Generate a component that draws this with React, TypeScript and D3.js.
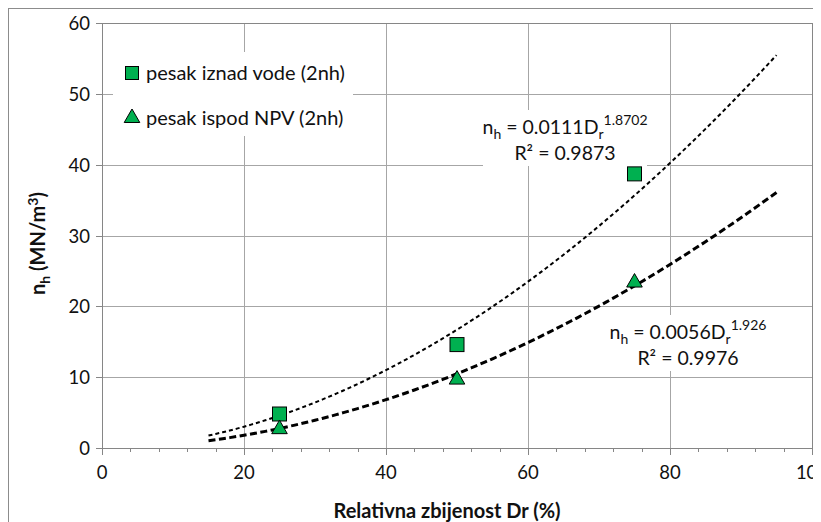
import React, { useEffect, useRef } from 'react';
import * as d3 from 'd3';

// measured points
const dr = [25, 50, 75];
const iznadVode = [4.8, 14.6, 38.7];
const ispodNPV = [2.8, 9.8, 23.5];

// power trendlines nh = a * Dr^b (from chart labels)
const trendA = [0.0111, 0.0056];
const trendB = [1.8702, 1.926];
const trendRange = [15, 95];

const xTicks = [0, 20, 40, 60, 80, 100];
const yTicks = [0, 10, 20, 30, 40, 50, 60];

const App: React.FC = () => {
  const svgRef = useRef<SVGSVGElement>(null);

  useEffect(() => {
    const svg = d3.select(svgRef.current);
    svg.selectAll('*').remove();

    const font = 'Lato, "Open Sans", sans-serif';
    const left = 94, top = 15, right = 804, bottom = 440;

    const x = d3.scaleLinear().domain([0, 100]).range([left, right]);
    const y = d3.scaleLinear().domain([0, 60]).range([bottom, top]);

    // outer chart border
    svg.append('rect')
      .attr('x', 0.5).attr('y', 0.5)
      .attr('width', 900).attr('height', 900)
      .attr('fill', 'white')
      .attr('stroke', '#8c8c8c');

    const g = svg.append('g');

    // horizontal gridlines
    yTicks.filter(t => t > 0).forEach(t => {
      g.append('line')
        .attr('x1', left).attr('x2', right)
        .attr('y1', Math.round(y(t)) + 0.5).attr('y2', Math.round(y(t)) + 0.5)
        .attr('stroke', '#a6a6a6');
    });
    // vertical gridlines
    xTicks.filter(t => t > 0).forEach(t => {
      g.append('line')
        .attr('x1', Math.round(x(t)) + 0.5).attr('x2', Math.round(x(t)) + 0.5)
        .attr('y1', top).attr('y2', bottom)
        .attr('stroke', '#a6a6a6');
    });

    // axes
    const axisColor = '#868686';
    g.append('line')
      .attr('x1', left + 0.5).attr('x2', left + 0.5)
      .attr('y1', top).attr('y2', bottom)
      .attr('stroke', axisColor);
    g.append('line')
      .attr('x1', left).attr('x2', right)
      .attr('y1', bottom + 0.5).attr('y2', bottom + 0.5)
      .attr('stroke', axisColor);

    yTicks.forEach(t => {
      const yy = Math.round(y(t)) + 0.5;
      g.append('line')
        .attr('x1', left - 6).attr('x2', left)
        .attr('y1', yy).attr('y2', yy)
        .attr('stroke', axisColor);
      g.append('text')
        .attr('x', left - 12).attr('y', yy + 6.5)
        .attr('text-anchor', 'end')
        .attr('font-family', font).attr('font-size', 18.5)
        .attr('fill', '#111')
        .text(t);
    });

    d3.range(0, 101, 4).forEach(t => {
      const xx = Math.round(x(t)) + 0.5;
      const major = t % 20 === 0;
      g.append('line')
        .attr('x1', xx).attr('x2', xx)
        .attr('y1', bottom).attr('y2', bottom + (major ? 7 : 4))
        .attr('stroke', axisColor);
    });
    xTicks.forEach(t => {
      g.append('text')
        .attr('x', x(t)).attr('y', bottom + 31)
        .attr('text-anchor', 'middle')
        .attr('font-family', font).attr('font-size', 18.5)
        .attr('fill', '#111')
        .text(t);
    });

    // axis titles
    g.append('text')
      .attr('x', (left + right) / 2 - 10).attr('y', bottom + 70)
      .attr('text-anchor', 'middle')
      .attr('font-family', font).attr('font-size', 20).attr('font-weight', 'bold')
      .attr('fill', '#111')
      .text('Relativna zbijenost Dr (%)');

    const yt = g.append('text')
      .attr('transform', `translate(37,${(top + bottom) / 2 + 8}) rotate(-90)`)
      .attr('text-anchor', 'middle')
      .attr('font-family', font).attr('font-size', 20).attr('font-weight', 'bold')
      .attr('fill', '#111');
    yt.append('tspan').text('n');
    yt.append('tspan').attr('font-size', 14).attr('dy', 5).text('h');
    yt.append('tspan').attr('dy', -5).text(' (MN/m');
    yt.append('tspan').attr('font-size', 14).attr('dy', -7).text('3');
    yt.append('tspan').attr('dy', 7).text(')');

    // plot area frame top/right
    g.append('line')
      .attr('x1', left).attr('x2', right + 0.5)
      .attr('y1', top + 0.5).attr('y2', top + 0.5)
      .attr('stroke', axisColor);
    g.append('line')
      .attr('x1', right + 0.5).attr('x2', right + 0.5)
      .attr('y1', top).attr('y2', bottom)
      .attr('stroke', axisColor);

    // trendlines
    const line = d3.line<number>().x(d => x(d[0])).y(d => y(d[1]));
    const xs = d3.range(trendRange[0], trendRange[1] + 0.01, 1);
    const styles = [
      { width: 2, dash: '4,3' },
      { width: 3, dash: '7,3.5' },
    ];
    trendA.forEach((a, i) => {
      const pts = xs.map(v => [v, a * Math.pow(v, trendB[i])]);
      g.append('path')
        .attr('d', (line as any)(pts))
        .attr('fill', 'none')
        .attr('stroke', '#000')
        .attr('stroke-width', styles[i].width)
        .attr('stroke-dasharray', styles[i].dash);
    });

    // equation labels
    const eq = (cx: number, cy: number, a: string, b: string, r2: string) => {
      g.append('rect')
        .attr('x', cx - 82).attr('y', cy - 24)
        .attr('width', 164).attr('height', 56)
        .attr('fill', 'white');
      const t = g.append('text')
        .attr('x', cx).attr('y', cy)
        .attr('text-anchor', 'middle')
        .attr('font-family', font).attr('font-size', 19.5)
        .attr('fill', '#111');
      t.append('tspan').text('n');
      t.append('tspan').attr('font-size', 14).attr('dy', 5).text('h');
      t.append('tspan').attr('dy', -5).text(` = ${a}D`);
      t.append('tspan').attr('font-size', 14).attr('dy', 5).text('r');
      t.append('tspan').attr('font-size', 14).attr('dy', -14).text(b);
      g.append('text')
        .attr('x', cx).attr('y', cy + 26)
        .attr('text-anchor', 'middle')
        .attr('font-family', font).attr('font-size', 19.5)
        .attr('fill', '#111')
        .text(`R² = ${r2}`);
    };
    eq(557, 126, '0.0111', '1.8702', '0.9873');
    eq(680, 331, '0.0056', '1.926', '0.9976');

    // markers
    const green = '#00b050';
    dr.forEach((d, i) => {
      g.append('rect')
        .attr('x', x(d) - 7).attr('y', y(iznadVode[i]) - 7)
        .attr('width', 14).attr('height', 14)
        .attr('fill', green).attr('stroke', '#000').attr('stroke-width', 1);
    });
    const tri = d3.symbol().type(d3.symbolTriangle).size(105);
    dr.forEach((d, i) => {
      g.append('path')
        .attr('d', tri() as string)
        .attr('transform', `translate(${x(d)},${y(ispodNPV[i]) + 1})`)
        .attr('fill', green).attr('stroke', '#000').attr('stroke-width', 1);
    });

    // legend
    const lg = g.append('g').attr('transform', 'translate(105,44)');
    lg.append('rect').attr('x', 0).attr('y', 0).attr('width', 240).attr('height', 84).attr('fill', 'white');
    lg.append('rect')
      .attr('x', 12.5).attr('y', 14.5).attr('width', 13).attr('height', 13)
      .attr('fill', green).attr('stroke', '#000');
    lg.append('text')
      .attr('x', 33).attr('y', 28)
      .attr('font-family', font).attr('font-size', 20).attr('fill', '#111')
      .text('pesak iznad vode (2nh)');
    lg.append('path')
      .attr('d', tri() as string)
      .attr('transform', 'translate(19,66)')
      .attr('fill', green).attr('stroke', '#000');
    lg.append('text')
      .attr('x', 33).attr('y', 73)
      .attr('font-family', font).attr('font-size', 20).attr('fill', '#111')
      .text('pesak ispod NPV (2nh)');
  }, []);

  return <svg ref={svgRef} width={813} height={514} style={{ display: 'block' }}></svg>;
};

export default App;
